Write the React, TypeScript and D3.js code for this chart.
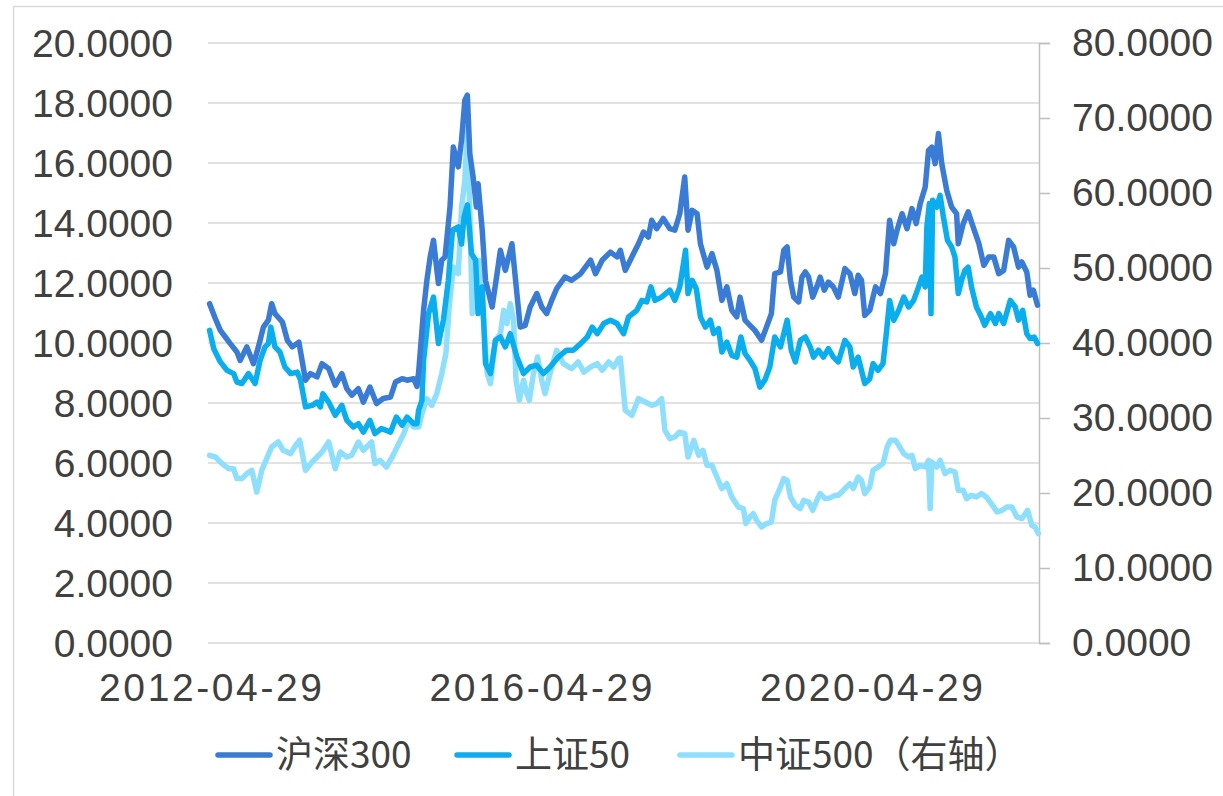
import React, { useRef, useEffect } from 'react';
import * as d3 from 'd3';

// decimal year, value
const hs300: [number, number][] = [
  [2012.32, 11.31], [2012.39, 10.81], [2012.45, 10.42], [2012.51, 10.2], [2012.57, 9.98], [2012.65, 9.7],
  [2012.69, 9.42], [2012.77, 9.87], [2012.85, 9.31], [2012.91, 9.87], [2012.97, 10.53], [2013.03, 10.76],
  [2013.07, 11.31], [2013.11, 10.98], [2013.2, 10.7], [2013.26, 10.09], [2013.32, 9.87], [2013.4, 10.03],
  [2013.48, 8.76], [2013.54, 8.98], [2013.62, 8.87], [2013.68, 9.31], [2013.76, 9.15], [2013.84, 8.59],
  [2013.92, 8.98], [2013.98, 8.48], [2014.04, 8.26], [2014.12, 8.48], [2014.18, 8.03], [2014.26, 8.53],
  [2014.34, 7.98], [2014.42, 8.15], [2014.51, 8.2], [2014.57, 8.7], [2014.65, 8.81], [2014.71, 8.76],
  [2014.79, 8.81], [2014.83, 8.55], [2014.85, 9.03], [2014.91, 11.09], [2014.95, 12.09], [2014.99, 12.87],
  [2015.03, 13.42], [2015.09, 11.98], [2015.13, 12.76], [2015.17, 12.87], [2015.23, 14.53], [2015.27, 16.53],
  [2015.33, 15.87], [2015.37, 16.76], [2015.41, 18.09], [2015.44, 18.26], [2015.47, 16.31], [2015.51, 15.53],
  [2015.55, 14.53], [2015.57, 15.31], [2015.62, 13.76], [2015.66, 12.09], [2015.74, 11.2], [2015.8, 12.31],
  [2015.84, 13.09], [2015.9, 12.42], [2015.98, 13.31], [2016.04, 11.65], [2016.08, 10.53], [2016.14, 10.59],
  [2016.2, 11.2], [2016.28, 11.65], [2016.34, 11.2], [2016.4, 10.98], [2016.46, 11.42], [2016.52, 11.81],
  [2016.62, 12.2], [2016.7, 12.09], [2016.81, 12.31], [2016.93, 12.76], [2016.99, 12.31], [2017.07, 12.76],
  [2017.17, 13.03], [2017.25, 12.87], [2017.29, 13.09], [2017.35, 12.42], [2017.41, 12.76], [2017.45, 12.98],
  [2017.51, 13.31], [2017.57, 13.7], [2017.63, 13.53], [2017.67, 14.09], [2017.73, 13.81], [2017.81, 14.15],
  [2017.89, 13.81], [2017.95, 13.76], [2018.01, 14.31], [2018.07, 15.53], [2018.11, 13.76], [2018.16, 14.42],
  [2018.22, 14.31], [2018.26, 13.31], [2018.34, 12.53], [2018.4, 12.98], [2018.46, 12.42], [2018.52, 11.42],
  [2018.58, 11.87], [2018.64, 11.09], [2018.7, 10.87], [2018.74, 11.53], [2018.8, 10.76], [2018.86, 10.59],
  [2018.92, 10.42], [2019.0, 10.09], [2019.06, 10.53], [2019.12, 10.98], [2019.16, 12.31], [2019.23, 12.37],
  [2019.27, 13.09], [2019.31, 13.2], [2019.35, 12.09], [2019.39, 11.53], [2019.45, 11.37], [2019.49, 12.2],
  [2019.53, 12.37], [2019.57, 12.2], [2019.62, 11.53], [2019.67, 11.87], [2019.71, 12.2], [2019.76, 11.76],
  [2019.81, 12.03], [2019.87, 11.87], [2019.93, 11.53], [2020.01, 12.48], [2020.07, 12.31], [2020.13, 11.65],
  [2020.17, 12.26], [2020.21, 12.09], [2020.25, 10.92], [2020.31, 11.09], [2020.38, 11.87], [2020.44, 11.65],
  [2020.5, 12.31], [2020.55, 14.09], [2020.6, 13.31], [2020.64, 13.76], [2020.7, 14.31], [2020.76, 13.81],
  [2020.82, 14.48], [2020.87, 13.98], [2020.92, 14.65], [2020.98, 15.2], [2021.02, 16.42], [2021.06, 16.53],
  [2021.1, 15.98], [2021.14, 16.98], [2021.18, 15.98], [2021.24, 15.09], [2021.3, 14.53], [2021.36, 14.31],
  [2021.38, 13.31], [2021.44, 13.98], [2021.5, 14.37], [2021.56, 13.87], [2021.63, 13.31], [2021.69, 12.59],
  [2021.75, 12.87], [2021.81, 12.87], [2021.87, 12.31], [2021.93, 12.42], [2021.99, 13.42], [2022.05, 13.2],
  [2022.11, 12.53], [2022.15, 12.7], [2022.21, 12.37], [2022.25, 11.59], [2022.29, 11.76], [2022.34, 11.26],
];

const sz50: [number, number][] = [
  [2012.32, 10.42], [2012.37, 9.81], [2012.45, 9.37], [2012.53, 9.09], [2012.61, 8.98], [2012.65, 8.7],
  [2012.71, 8.65], [2012.79, 8.98], [2012.87, 8.65], [2012.93, 9.42], [2012.99, 9.87], [2013.03, 9.98],
  [2013.06, 10.53], [2013.11, 9.87], [2013.17, 9.7], [2013.23, 9.2], [2013.3, 8.98], [2013.38, 9.03],
  [2013.42, 8.76], [2013.48, 7.87], [2013.56, 7.92], [2013.62, 8.03], [2013.66, 7.87], [2013.69, 8.31],
  [2013.76, 8.03], [2013.84, 7.59], [2013.92, 7.92], [2013.98, 7.42], [2014.06, 7.2], [2014.12, 7.31],
  [2014.18, 7.03], [2014.26, 7.42], [2014.32, 6.98], [2014.4, 7.15], [2014.51, 7.03], [2014.58, 7.53],
  [2014.65, 7.26], [2014.71, 7.53], [2014.79, 7.31], [2014.83, 7.31], [2014.85, 7.76], [2014.89, 8.09],
  [2014.91, 9.42], [2014.97, 10.98], [2015.03, 11.53], [2015.09, 9.98], [2015.15, 10.76], [2015.21, 12.09],
  [2015.26, 13.76], [2015.33, 13.87], [2015.37, 13.3], [2015.4, 14.2], [2015.44, 14.6], [2015.49, 12.98],
  [2015.54, 12.76], [2015.57, 10.98], [2015.62, 11.87], [2015.66, 9.31], [2015.72, 8.98], [2015.78, 10.09],
  [2015.84, 10.2], [2015.9, 9.87], [2015.96, 10.31], [2016.04, 9.53], [2016.12, 8.98], [2016.2, 9.2],
  [2016.28, 9.26], [2016.36, 8.98], [2016.44, 9.2], [2016.54, 9.53], [2016.64, 9.76], [2016.72, 9.76],
  [2016.81, 9.98], [2016.89, 10.2], [2016.95, 10.53], [2017.01, 10.31], [2017.09, 10.65], [2017.17, 10.76],
  [2017.25, 10.65], [2017.33, 10.31], [2017.39, 10.87], [2017.49, 11.09], [2017.55, 11.42], [2017.61, 11.37],
  [2017.66, 11.87], [2017.71, 11.42], [2017.79, 11.53], [2017.89, 11.76], [2017.95, 11.42], [2018.01, 11.87],
  [2018.08, 13.09], [2018.11, 11.65], [2018.16, 12.09], [2018.21, 11.81], [2018.26, 10.87], [2018.32, 10.53],
  [2018.38, 10.76], [2018.42, 10.31], [2018.48, 10.48], [2018.52, 9.7], [2018.58, 10.03], [2018.64, 9.59],
  [2018.7, 9.53], [2018.75, 10.2], [2018.8, 9.65], [2018.86, 9.42], [2018.92, 9.15], [2018.98, 8.53],
  [2019.04, 8.76], [2019.1, 9.2], [2019.16, 10.2], [2019.23, 9.87], [2019.27, 10.31], [2019.31, 10.76],
  [2019.36, 9.76], [2019.41, 9.37], [2019.47, 10.09], [2019.53, 10.2], [2019.59, 9.87], [2019.63, 9.53],
  [2019.69, 9.76], [2019.75, 9.53], [2019.81, 9.81], [2019.87, 9.53], [2019.93, 9.37], [2020.01, 10.09],
  [2020.07, 9.87], [2020.11, 9.2], [2020.17, 9.53], [2020.21, 9.09], [2020.25, 8.65], [2020.31, 8.81],
  [2020.35, 9.31], [2020.41, 9.09], [2020.47, 9.31], [2020.51, 10.31], [2020.55, 11.42], [2020.6, 10.76],
  [2020.66, 11.09], [2020.72, 11.53], [2020.78, 11.2], [2020.84, 11.42], [2020.9, 11.87], [2020.94, 12.2],
  [2020.98, 11.87], [2021.0, 13.87], [2021.03, 14.65], [2021.05, 10.98], [2021.07, 14.76], [2021.12, 14.53],
  [2021.16, 14.92], [2021.2, 14.2], [2021.25, 13.42], [2021.3, 13.2], [2021.34, 12.87], [2021.38, 11.65],
  [2021.42, 12.09], [2021.46, 12.42], [2021.5, 12.53], [2021.54, 11.87], [2021.6, 11.2], [2021.66, 10.87],
  [2021.7, 10.59], [2021.77, 10.98], [2021.83, 10.65], [2021.87, 10.98], [2021.93, 10.65], [2022.01, 11.42],
  [2022.07, 11.2], [2022.11, 10.76], [2022.16, 11.09], [2022.21, 10.31], [2022.25, 10.15], [2022.3, 10.2],
  [2022.34, 9.98],
];

const zz500: [number, number][] = [
  [2012.32, 25.03], [2012.39, 24.8], [2012.47, 23.92], [2012.55, 23.25], [2012.61, 23.25], [2012.65, 21.92],
  [2012.71, 21.92], [2012.77, 22.59], [2012.83, 23.03], [2012.89, 20.13], [2012.95, 23.03], [2013.01, 24.59],
  [2013.07, 26.13], [2013.15, 26.8], [2013.21, 25.69], [2013.3, 25.25], [2013.36, 26.36], [2013.41, 27.03],
  [2013.48, 23.03], [2013.56, 24.13], [2013.62, 24.8], [2013.68, 25.47], [2013.76, 26.8], [2013.84, 23.25],
  [2013.9, 25.47], [2013.98, 24.8], [2014.04, 25.03], [2014.12, 26.8], [2014.18, 25.69], [2014.28, 26.8],
  [2014.32, 23.92], [2014.38, 24.36], [2014.46, 23.47], [2014.53, 24.8], [2014.61, 26.59], [2014.67, 27.92],
  [2014.73, 29.69], [2014.79, 28.8], [2014.85, 28.8], [2014.89, 30.59], [2014.95, 32.59], [2015.01, 31.69],
  [2015.07, 33.25], [2015.13, 35.92], [2015.18, 38.59], [2015.22, 44.8], [2015.27, 50.13], [2015.33, 49.25],
  [2015.37, 58.13], [2015.41, 61.69], [2015.44, 68.8], [2015.47, 57.25], [2015.5, 43.92], [2015.55, 50.13],
  [2015.59, 51.03], [2015.63, 43.92], [2015.68, 35.92], [2015.72, 34.59], [2015.78, 40.36], [2015.84, 41.25],
  [2015.88, 44.36], [2015.92, 42.59], [2015.96, 45.25], [2016.0, 43.03], [2016.03, 35.03], [2016.07, 32.36],
  [2016.12, 35.03], [2016.16, 33.25], [2016.19, 32.36], [2016.24, 35.92], [2016.29, 38.13], [2016.34, 35.03],
  [2016.38, 33.25], [2016.44, 35.92], [2016.52, 39.03], [2016.6, 37.25], [2016.7, 36.59], [2016.78, 37.47],
  [2016.85, 36.13], [2016.93, 36.8], [2017.01, 37.25], [2017.07, 36.36], [2017.15, 37.47], [2017.21, 36.8],
  [2017.27, 37.92], [2017.29, 38.0], [2017.35, 31.03], [2017.43, 30.36], [2017.51, 32.59], [2017.59, 32.13],
  [2017.67, 31.69], [2017.73, 31.92], [2017.79, 32.59], [2017.83, 28.36], [2017.89, 27.25], [2017.95, 27.47],
  [2018.01, 28.13], [2018.07, 27.92], [2018.11, 24.8], [2018.18, 27.03], [2018.24, 25.03], [2018.29, 25.69],
  [2018.34, 23.69], [2018.4, 23.69], [2018.46, 22.13], [2018.52, 20.59], [2018.58, 21.25], [2018.64, 19.47],
  [2018.72, 18.13], [2018.78, 17.92], [2018.81, 15.92], [2018.86, 16.8], [2018.9, 17.25], [2018.94, 16.36],
  [2019.0, 15.47], [2019.06, 15.92], [2019.12, 16.13], [2019.16, 19.03], [2019.23, 20.8], [2019.27, 21.92],
  [2019.31, 21.69], [2019.35, 19.47], [2019.41, 18.36], [2019.47, 17.92], [2019.51, 19.03], [2019.57, 18.8],
  [2019.62, 17.69], [2019.67, 19.03], [2019.71, 19.92], [2019.77, 19.25], [2019.83, 19.35], [2019.89, 19.69],
  [2019.93, 19.69], [2020.01, 20.59], [2020.07, 21.25], [2020.11, 20.59], [2020.17, 22.13], [2020.21, 21.69],
  [2020.25, 19.92], [2020.31, 20.8], [2020.35, 23.03], [2020.41, 23.47], [2020.47, 23.92], [2020.52, 26.13],
  [2020.56, 27.03], [2020.62, 27.03], [2020.66, 26.36], [2020.72, 25.25], [2020.78, 24.8], [2020.82, 25.03],
  [2020.86, 23.25], [2020.92, 23.69], [2020.98, 23.47], [2021.02, 24.36], [2021.04, 17.92], [2021.06, 24.13],
  [2021.12, 23.47], [2021.16, 24.36], [2021.22, 22.59], [2021.28, 23.03], [2021.34, 22.8], [2021.38, 20.36],
  [2021.44, 20.36], [2021.48, 19.25], [2021.54, 19.69], [2021.6, 19.47], [2021.66, 19.92], [2021.72, 19.47],
  [2021.78, 18.59], [2021.85, 17.47], [2021.91, 17.69], [2021.97, 18.13], [2022.03, 18.13], [2022.09, 16.8],
  [2022.15, 16.59], [2022.22, 17.69], [2022.27, 15.69], [2022.31, 15.47], [2022.35, 14.59],
];

const seriesNames = ['沪深300', '上证50', '中证500（右轴）'];
const seriesColors = ['#3A7BD5', '#0AAEEE', '#8EDFFD'];
const xTickLabels = ['2012-04-29', '2016-04-29', '2020-04-29'];
const leftTicks = [0, 2, 4, 6, 8, 10, 12, 14, 16, 18, 20];
const rightTicks = [0, 10, 20, 30, 40, 50, 60, 70, 80];

const W = 1223;
const H = 796;
const FONT = '"Liberation Sans", Arial, "Noto Sans CJK SC", sans-serif';

function toDate(t: number) {
  const y = Math.floor(t);
  const a = new Date(y, 0, 1).getTime();
  const b = new Date(y + 1, 0, 1).getTime();
  return new Date(a + (t - y) * (b - a));
}

function App() {
  const ref = useRef<SVGSVGElement>(null);

  useEffect(() => {
    const svg = d3.select(ref.current);
    svg.selectAll('*').remove();

    const plot = { left: 208, right: 1039, top: 43, bottom: 643 };
    const parse = d3.timeParse('%Y-%m-%d');

    const x = d3.scaleTime()
      .domain([parse(xTickLabels[0])!, parse(xTickLabels[2])!])
      .range([210, 871]);
    const yL = d3.scaleLinear().domain([0, 20]).range([plot.bottom, plot.top]);
    const yR = d3.scaleLinear().domain([0, 80]).range([plot.bottom, plot.top]);

    // outer frame
    svg.append('rect')
      .attr('x', 13.5).attr('y', 6.5)
      .attr('width', 1220).attr('height', 820)
      .attr('fill', 'none').attr('stroke', '#d9d9d9').attr('stroke-width', 1.5);

    // gridlines
    svg.append('g').selectAll('line')
      .data(leftTicks)
      .enter().append('line')
      .attr('x1', plot.left).attr('x2', plot.right)
      .attr('y1', d => yL(d)).attr('y2', d => yL(d))
      .attr('stroke', '#d9d9d9').attr('stroke-width', 1.5);

    // left axis labels
    svg.append('g').selectAll('text')
      .data(leftTicks)
      .enter().append('text')
      .attr('x', 173).attr('y', d => yL(d))
      .attr('dy', '0.35em')
      .attr('text-anchor', 'end')
      .attr('font-family', FONT).attr('font-size', 39)
      .attr('fill', '#404040')
      .text(d => d3.format('.4f')(d));

    // right axis
    const right = svg.append('g')
      .attr('transform', `translate(${plot.right},0)`)
      .call(d3.axisRight(yR).tickValues(rightTicks).tickSize(11).tickPadding(22).tickFormat(d3.format('.4f')));
    right.select('.domain').attr('stroke', '#bfbfbf').attr('stroke-width', 1.5);
    right.selectAll('.tick line').attr('stroke', '#bfbfbf').attr('stroke-width', 1.5);
    right.selectAll('.tick text')
      .attr('font-family', FONT).attr('font-size', 39).attr('fill', '#404040');

    // x axis labels
    const bottom = svg.append('g')
      .attr('transform', `translate(0,${plot.bottom})`)
      .call(d3.axisBottom(x).tickValues(xTickLabels.map(s => parse(s)!)).tickSize(0).tickPadding(30)
        .tickFormat(d => d3.timeFormat('%Y-%m-%d')(d as Date)));
    bottom.select('.domain').remove();
    bottom.selectAll('.tick text')
      .attr('font-family', FONT).attr('font-size', 39).attr('fill', '#404040')
      .attr('letter-spacing', 2.6)
      .attr('dx', 1.3);

    // lines
    const lineL = d3.line<[number, number]>()
      .x(d => x(toDate(d[0])))
      .y(d => yL(d[1]));
    const lineR = d3.line<[number, number]>()
      .x(d => x(toDate(d[0])))
      .y(d => yR(d[1]));

    const lines = [
      { data: zz500, gen: lineR, color: seriesColors[2] },
      { data: sz50, gen: lineL, color: seriesColors[1] },
      { data: hs300, gen: lineL, color: seriesColors[0] },
    ];
    lines.forEach(s => {
      svg.append('path')
        .datum(s.data)
        .attr('d', s.gen)
        .attr('fill', 'none')
        .attr('stroke', s.color)
        .attr('stroke-width', 5.5)
        .attr('stroke-linejoin', 'round')
        .attr('stroke-linecap', 'round');
    });

    // legend
    const legendX = [218, 457, 680];
    const legend = svg.append('g').selectAll('g')
      .data(seriesNames)
      .enter().append('g')
      .attr('transform', (d, i) => `translate(${legendX[i]},755)`);
    legend.append('line')
      .attr('x1', 0).attr('x2', 52)
      .attr('stroke', (d, i) => seriesColors[i])
      .attr('stroke-width', 5.5)
      .attr('stroke-linecap', 'round');
    legend.append('text')
      .attr('x', 58).attr('dy', '0.35em')
      .attr('font-family', '"Noto Sans CJK SC", sans-serif')
      .attr('font-size', 37)
      .attr('fill', '#404040')
      .text(d => d);
  }, []);

  return (
    <svg ref={ref} width={W} height={H}
      style={{ position: 'absolute', left: 0, top: 0, background: '#fff' }} />
  );
}

export default App;
